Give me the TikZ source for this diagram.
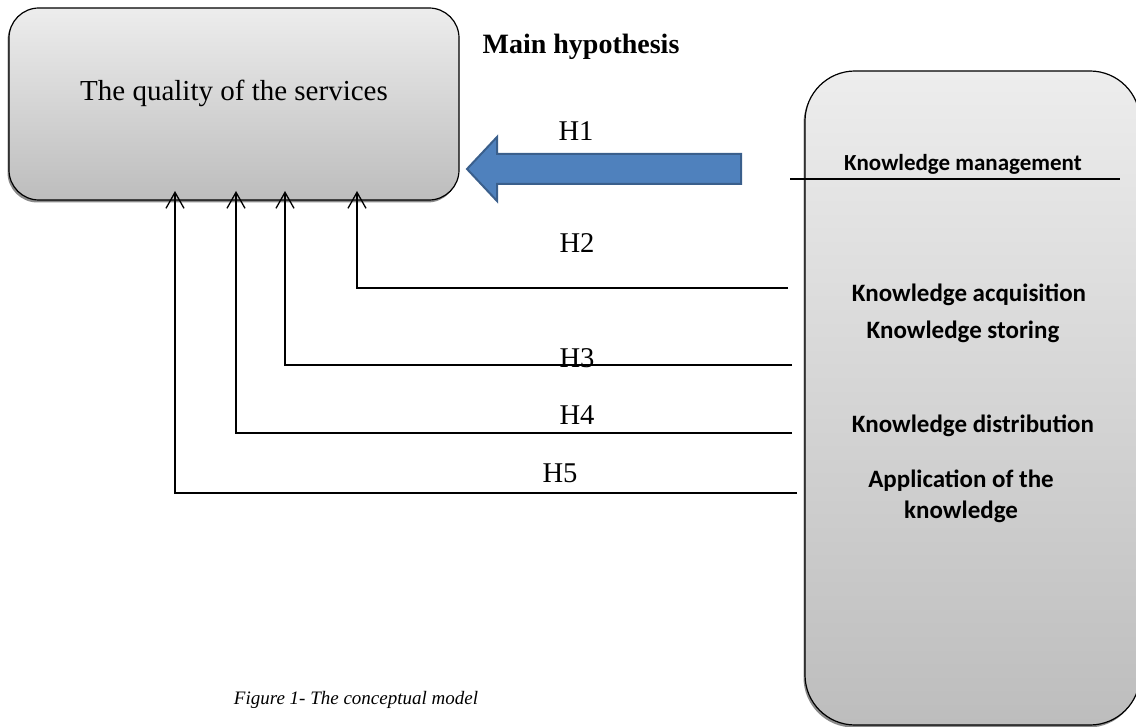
\documentclass[tikz,border=0pt]{standalone}
\usepackage{fontspec}
\setmainfont{Liberation Serif}
\newfontfamily\calibrifont{Carlito}
\usetikzlibrary{arrows.meta,shadows}
\definecolor{boxtop}{HTML}{EDEDED}
\definecolor{boxbot}{HTML}{BDBDBD}
\definecolor{arrowfill}{HTML}{4F81BD}
\definecolor{arrowline}{HTML}{3A5F8C}
\definecolor{shadowgray}{HTML}{8A8A8A}
\begin{document}
\begin{tikzpicture}[x=1pt,y=-1pt,
  gbox/.style={draw=black, line width=1.2pt, top color=boxtop, bottom color=boxbot,
    drop shadow={shadow xshift=-1.5pt, shadow yshift=-2.5pt, fill=shadowgray, opacity=1},
    inner sep=0pt},
  serif/.style={font=\fontsize{29}{32}\selectfont, inner sep=0pt},
  hlab/.style={font=\fontsize{28.6}{30}\selectfont, inner sep=0pt},
  kmtext/.style={font=\calibrifont\bfseries\fontsize{25}{30}\selectfont, inner sep=0pt},
  hyp/.style={line width=1.3pt, -{Straight Barb[length=16pt,width=18pt,line width=1.3pt]}}
]
\useasboundingbox (0,0) rectangle (1136,727);

% left box
\node[gbox, rounded corners=30pt, minimum width=450pt, minimum height=192pt] (qual) at (234,104) {};
\node[serif] (qualt) at (234,93) {The quality of the services};

% right box
\node[gbox, rounded corners=50pt, minimum width=335pt, minimum height=654pt] (km) at (972.5,398) {};
\coordinate (sepl) at (790,179);
\coordinate (sepr) at (1120,179);
\draw[line width=1.2pt] (sepl) -- (sepr);

\node[kmtext, font=\calibrifont\bfseries\fontsize{23}{27}\selectfont] (kmt) at (963,164) {Knowledge management};
\node[kmtext] (k1) at (969,295) {Knowledge acquisition};
\node[kmtext] (k2) at (963,332) {Knowledge storing};
\node[kmtext] (k3) at (973,426) {Knowledge distribution};
\node[kmtext, align=center, font=\calibrifont\bfseries\fontsize{25}{31}\selectfont] (k4) at (961,496) {Application of the\\knowledge};

% main hypothesis
\node[font=\bfseries\fontsize{28}{30}\selectfont, inner sep=0pt] (mh) at (581,47) {Main hypothesis};
\node[hlab] (h1) at (576,131) {H1};
\draw[fill=arrowfill, draw=arrowline, line width=2pt, line join=miter]
  (741,154) -- (497,154) -- (497,137) -- (467,169) -- (497,201) -- (497,184) -- (741,184) -- cycle;

% hypotheses H2..H5
\coordinate (s2) at (788,288);
\coordinate (e2) at (357,191);
\coordinate (s3) at (792,365);
\coordinate (e3) at (285,191);
\coordinate (s4) at (792,433);
\coordinate (e4) at (236,191);
\coordinate (s5) at (797,493);
\coordinate (e5) at (175,191);
\draw[hyp] (s2) -| (e2);
\draw[hyp] (s3) -| (e3);
\draw[hyp] (s4) -| (e4);
\draw[hyp] (s5) -| (e5);

\node[hlab] (h2) at (577,243) {H2};
\node[hlab] (h3) at (577,358) {H3};
\node[hlab] (h4) at (577,415) {H4};
\node[hlab] (h5) at (560,473) {H5};

% caption
\node[font=\itshape\fontsize{19}{22}\selectfont, inner sep=0pt] (cap) at (356,700) {Figure 1- The conceptual model};
\end{tikzpicture}
\end{document}
